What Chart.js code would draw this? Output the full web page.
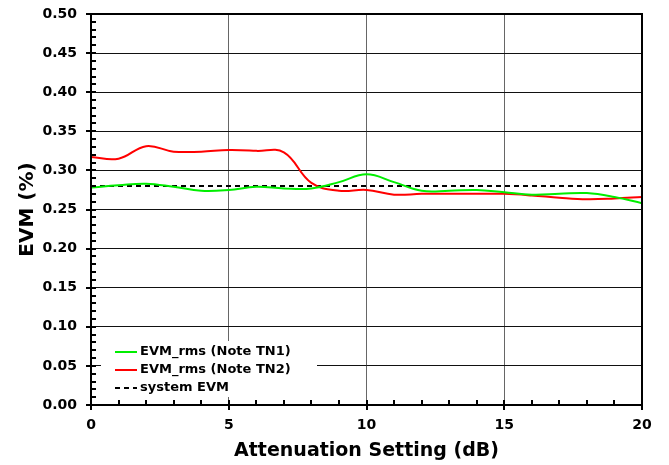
<!DOCTYPE html>
<html>
<head>
<meta charset="utf-8">
<script src="https://cdn.jsdelivr.net/npm/chart.js@4"></script>
<style>
  html, body { margin: 0; padding: 0; background: #fff; }
  #wrap { width: 669px; height: 465px; }
</style>
</head>
<body>
<div id="wrap"><canvas id="myChart" width="669" height="465"></canvas></div>
<script>
const attenuation = [0, 1, 2, 3, 4, 5, 6, 7, 8, 9, 10, 11, 12, 13, 14, 15, 16, 17, 18, 19, 20];
const evmTN1 = [0.278, 0.281, 0.283, 0.279, 0.274, 0.275, 0.279, 0.277, 0.277, 0.285, 0.295,
  0.285, 0.274, 0.274, 0.275, 0.272, 0.269, 0.270, 0.271, 0.266, 0.258];
const evmTN2 = [0.317, 0.315, 0.331, 0.324, 0.324, 0.326, 0.325, 0.323, 0.284, 0.274, 0.275,
  0.269, 0.270, 0.270, 0.270, 0.270, 0.268, 0.265, 0.263, 0.264, 0.266];
const systemEVM = 0.28;
const seriesNames = ["EVM_rms (Note TN1)", "EVM_rms (Note TN2)", "system EVM"];

const FONT = "'DejaVu Sans', Verdana, sans-serif";

function toPoints(ys) {
  return attenuation.map((x, i) => ({ x: x, y: ys[i] }));
}

// ticks, frame and the legend box inside the plot
const extras = {
  id: "extras",
  afterDraw(chart) {
    const { ctx, chartArea: a, scales } = chart;
    const x = scales.x, y = scales.y;
    ctx.save();
    ctx.strokeStyle = "#000";
    ctx.lineWidth = 2;
    ctx.strokeRect(a.left, a.top, a.right - a.left, a.bottom - a.top);

    for (let v = 0; v <= 50; v++) {
      const py = Math.round(y.getPixelForValue(v / 100));
      const major = v % 5 === 0;
      ctx.beginPath();
      ctx.moveTo(a.left - (major ? 5 : 0), py);
      ctx.lineTo(a.left + 5, py);
      ctx.stroke();
    }
    for (let v = 0; v <= 20; v++) {
      const px = Math.round(x.getPixelForValue(v));
      const major = v % 5 === 0;
      ctx.beginPath();
      ctx.moveTo(px, a.bottom + (major ? 5 : 0));
      ctx.lineTo(px, a.bottom - 5);
      ctx.stroke();
    }

    // legend
    const lx = a.left + 24, ly = a.bottom - 53;
    ctx.fillStyle = "#fff";
    ctx.fillRect(a.left + 10, a.bottom - 64, 216, 56);
    ctx.font = "bold 13px " + FONT;
    ctx.textBaseline = "middle";
    chart.data.datasets.forEach((ds, i) => {
      const yy = ly + i * 18;
      ctx.strokeStyle = ds.borderColor;
      ctx.lineWidth = 2;
      ctx.setLineDash(ds.borderDash || []);
      ctx.beginPath();
      ctx.moveTo(lx, yy);
      ctx.lineTo(lx + 22, yy);
      ctx.stroke();
      ctx.setLineDash([]);
      ctx.fillStyle = "#000";
      ctx.fillText(ds.label, lx + 25, yy);
    });
    ctx.restore();
  }
};

new Chart("myChart", {
  type: "line",
  data: {
    datasets: [
      {
        label: seriesNames[0],
        data: toPoints(evmTN1),
        borderColor: "#00ee00",
        borderWidth: 2,
        pointRadius: 0,
        tension: 0.4,
        fill: false,
      },
      {
        label: seriesNames[1],
        data: toPoints(evmTN2),
        borderColor: "#ff0000",
        borderWidth: 2,
        pointRadius: 0,
        tension: 0.4,
        fill: false,
      },
      {
        label: seriesNames[2],
        data: [{ x: 0, y: systemEVM }, { x: 20, y: systemEVM }],
        borderColor: "#000",
        borderWidth: 2,
        borderDash: [5, 4],
        pointRadius: 0,
        fill: false,
      },
    ],
  },
  options: {
    responsive: false,
    animation: false,
    layout: { padding: { left: 0, top: 14, right: 27, bottom: 0 } },
    plugins: {
      legend: { display: false },
      tooltip: { enabled: false },
    },
    scales: {
      x: {
        type: "linear",
        min: 0,
        max: 20,
        ticks: {
          stepSize: 5,
          padding: 12,
          color: "#000",
          font: { family: FONT, size: 14, weight: "bold" },
        },
        grid: { color: "#666", lineWidth: 1, drawTicks: false },
        border: { display: false },
        title: {
          display: true,
          text: "Attenuation Setting (dB)",
          color: "#000",
          font: { family: FONT, size: 19, weight: "bold" },
          padding: { top: 0, bottom: 3 },
        },
        afterFit(scale) { scale.height = 60; },
      },
      y: {
        min: 0,
        max: 0.5,
        ticks: {
          stepSize: 0.05,
          padding: 14,
          color: "#000",
          font: { family: FONT, size: 14, weight: "bold" },
          callback: (v) => v.toFixed(2),
        },
        grid: { color: "#111", lineWidth: 1, drawTicks: false },
        border: { display: false },
        title: {
          display: true,
          text: "EVM (%)",
          color: "#000",
          font: { family: FONT, size: 20, weight: "bold" },
          padding: { top: 16, bottom: 0 },
        },
        afterFit(scale) {
          scale.width = 91;
          scale.paddingTop = 0;
          scale.paddingBottom = 0;
        },
      },
    },
  },
  plugins: [extras],
});
</script>
</body>
</html>
